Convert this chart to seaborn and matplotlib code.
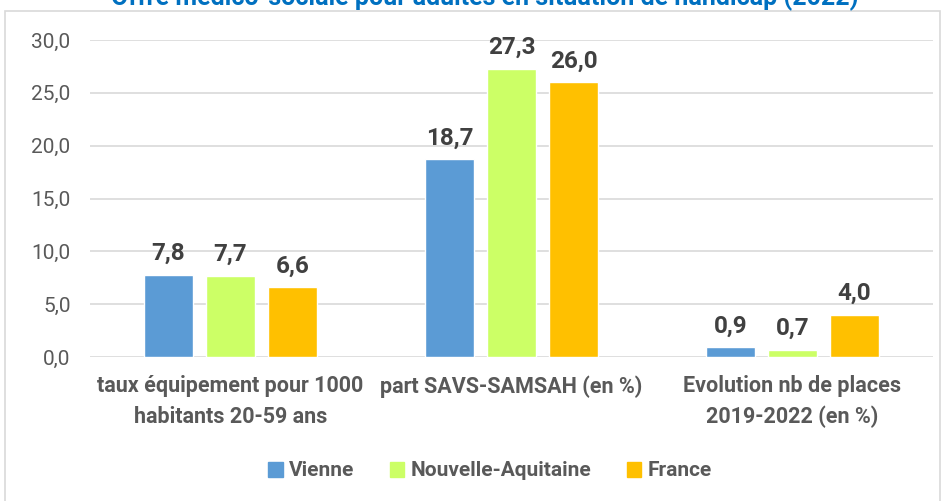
import numpy as np
import pandas as pd
import seaborn as sns
import matplotlib.pyplot as plt
from matplotlib.patches import Rectangle

# Data
categories = ["taux équipement pour 1000\nhabitants 20-59 ans",
              "part SAVS-SAMSAH (en %)",
              "Evolution nb de places\n2019-2022 (en %)"]
territories = ["Vienne", "Nouvelle-Aquitaine", "France"]
vienne = [7.8, 18.7, 0.9]
nouvelle_aquitaine = [7.7, 27.3, 0.7]
france = [6.6, 26.0, 4.0]
colors = ["#5B9BD5", "#CCFF66", "#FFC000"]
title = "Offre médico-sociale pour adultes en situation de handicap (2022)"

df = pd.DataFrame({
    "Indicateur": categories * 3,
    "Territoire": [t for t in territories for _ in categories],
    "Valeur": vienne + nouvelle_aquitaine + france,
})

sns.set_style("white")
plt.rcParams['font.family'] = ['Roboto', 'DejaVu Sans']

fig = plt.figure(figsize=(9.47, 5.01), dpi=100)
ax = fig.add_axes([90 / 947, 1 - 357 / 501, (933 - 90) / 947, (357 - 40) / 501])

sns.barplot(data=df, x="Indicateur", y="Valeur", hue="Territoire",
            palette=colors, saturation=1, width=0.662, gap=0.21, ax=ax, legend=True)

ax.set_ylim(0, 30)
ax.set_xlim(-0.5, 2.5)
yt = np.arange(0, 31, 5)
ax.set_yticks(yt)
ax.set_yticklabels([f"{v:.1f}".replace(".", ",") for v in yt], fontsize=15, color="#595959")
ax.set_xticks(range(len(categories)))
ax.set_xticklabels(categories, fontsize=15.5, fontweight="bold", color="#595959", linespacing=1.5)
ax.tick_params(axis="y", length=0, pad=14)
ax.tick_params(axis="x", length=0, pad=13)
ax.set_xlabel("")
ax.set_ylabel("")
ax.yaxis.grid(True, color="#D9D9D9", linewidth=1.2)
ax.set_axisbelow(True)
for s in ax.spines.values():
    s.set_visible(False)

for cont in ax.containers:
    ax.bar_label(cont, labels=[f"{v:.1f}".replace(".", ",") for v in cont.datavalues],
                 padding=7, fontsize=17.5, fontweight="bold", color="#404040")

ax.get_legend().remove()
handles = [plt.Rectangle((0, 0), 1, 1, color=c) for c in colors]
leg = fig.legend(handles, territories, loc="center", bbox_to_anchor=(490 / 947, (501 - 471) / 501),
                 ncol=3, frameon=False, handlelength=0.7, handleheight=0.7,
                 handletextpad=0.3, columnspacing=1.7, prop={"weight": "bold", "size": 15})
for t in leg.get_texts():
    t.set_color("#595959")

# Chart frame
fig.patches.append(Rectangle((5 / 947, -0.05), 935 / 947, 1.05 - 11 / 501, transform=fig.transFigure,
                             fill=False, edgecolor="#D9D9D9", linewidth=1.2))

fig.text(485 / 947, 1 - 5 / 501, title, ha="center", va="baseline",
         fontsize=18, fontweight="bold", color="#0070C0")

fig.savefig("out.png", dpi=100)
